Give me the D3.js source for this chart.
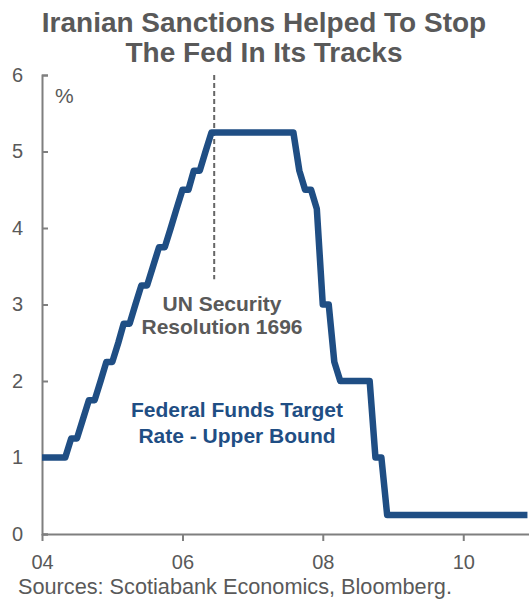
<!DOCTYPE html>
<html>
<head>
<meta charset="utf-8">
<script src="https://cdn.jsdelivr.net/npm/d3@7"></script>
<style>
  body { margin: 0; background: #fff; }
  svg { display: block; font-family: "Liberation Sans", Arial, sans-serif; }
</style>
</head>
<body>
<div id="chart"></div>
<script>
// monthly fed funds target rate (upper bound), month-end values, Jan 2004 - Dec 2010
const startMonth = "2004-01";
const rates = [
  1, 1, 1, 1, 1, 1.25, 1.25, 1.5, 1.75, 1.75, 2, 2.25,            // 2004
  2.25, 2.5, 2.75, 2.75, 3, 3.25, 3.25, 3.5, 3.75, 3.75, 4, 4.25,   // 2005
  4.5, 4.5, 4.75, 4.75, 5, 5.25, 5.25, 5.25, 5.25, 5.25, 5.25, 5.25, // 2006
  5.25, 5.25, 5.25, 5.25, 5.25, 5.25, 5.25, 5.25, 4.75, 4.5, 4.5, 4.25, // 2007
  3, 3, 2.25, 2, 2, 2, 2, 2, 2, 1, 1, 0.25,                       // 2008
  0.25, 0.25, 0.25, 0.25, 0.25, 0.25, 0.25, 0.25, 0.25, 0.25, 0.25, 0.25, // 2009
  0.25, 0.25, 0.25, 0.25, 0.25, 0.25, 0.25, 0.25, 0.25, 0.25, 0.25, 0.25  // 2010
];
const xTickYears = ["2004", "2006", "2008", "2010"];
const yTicks = [0, 1, 2, 3, 4, 5, 6];
const unDate = "2006-06-15"; // UN Security Resolution 1696 marker

const parseMonth = d3.timeParse("%Y-%m");
const parseDay = d3.timeParse("%Y-%m-%d");
const parseYear = d3.timeParse("%Y");

const data = rates.map((r, i) => ({
  date: d3.timeMonth.offset(parseMonth(startMonth), i),
  rate: r
}));

const width = 529, height = 600;
const margin = {top: 75, right: 0, bottom: 66, left: 42};

const grey = "#595959", axisGrey = "#7f7f7f", blue = "#1f4e84";

const svg = d3.select("#chart").append("svg")
  .attr("width", width)
  .attr("height", height);

const x = d3.scaleTime()
  .domain([parseYear("2004"), parseYear("2011")])
  .range([margin.left, margin.left + 7 * 70.2]);

const y = d3.scaleLinear()
  .domain([0, 6])
  .range([height - margin.bottom, margin.top]);

// title
svg.append("text")
  .attr("x", 264).attr("y", 32)
  .attr("text-anchor", "middle")
  .style("font-size", "28px").style("font-weight", "bold").style("fill", grey)
  .selectAll("tspan")
  .data(["Iranian Sanctions Helped To Stop", "The Fed In Its Tracks"])
  .join("tspan")
  .attr("x", 264)
  .attr("dy", (d, i) => i ? 30 : 0)
  .text(d => d);

// dashed marker
svg.append("line")
  .attr("x1", x(parseDay(unDate))).attr("x2", x(parseDay(unDate)))
  .attr("y1", y(6)).attr("y2", y(3.33))
  .style("stroke", "#666").style("stroke-width", 2)
  .style("stroke-dasharray", "5,3");

svg.append("text")
  .attr("text-anchor", "middle")
  .style("font-size", "21px").style("font-weight", "bold").style("fill", grey)
  .selectAll("tspan")
  .data(["UN Security", "Resolution 1696"])
  .join("tspan")
  .attr("x", 222)
  .attr("y", (d, i) => 311 + i * 23)
  .text(d => d);

// axes
const yAxis = d3.axisLeft(y)
  .tickValues(yTicks)
  .tickFormat(d3.format("d"))
  .tickSizeInner(-6)
  .tickSizeOuter(-6)
  .tickPadding(19);

const xAxis = d3.axisBottom(x)
  .tickValues(xTickYears.map(parseYear))
  .tickFormat(d3.timeFormat("%y"))
  .tickSizeInner(7)
  .tickSizeOuter(0)
  .tickPadding(14);

const gy = svg.append("g")
  .attr("transform", `translate(${margin.left},0)`)
  .call(yAxis);

const gx = svg.append("g")
  .attr("transform", `translate(0,${y(0)})`)
  .call(xAxis);

[gx, gy].forEach(g => {
  g.select(".domain").style("stroke", axisGrey).style("stroke-width", 2);
  g.selectAll(".tick line").style("stroke", axisGrey).style("stroke-width", 2);
  g.selectAll(".tick text")
    .style("font-size", "20px").style("fill", grey)
    .style("font-family", "Liberation Sans, Arial, sans-serif");
});

svg.append("text")
  .attr("x", 55).attr("y", 103)
  .style("font-size", "21px").style("fill", grey)
  .text("%");

// series
const line = d3.line()
  .x(d => x(d.date))
  .y(d => y(d.rate));

svg.append("path")
  .datum(data)
  .attr("d", line)
  .style("fill", "none")
  .style("stroke", blue)
  .style("stroke-width", 6.5)
  .style("stroke-linejoin", "round");

svg.append("text")
  .attr("text-anchor", "middle")
  .style("font-size", "21px").style("font-weight", "bold").style("fill", blue)
  .selectAll("tspan")
  .data(["Federal Funds Target", "Rate - Upper Bound"])
  .join("tspan")
  .attr("x", 237)
  .attr("y", (d, i) => 417 + i * 26)
  .text(d => d);

// source
svg.append("text")
  .attr("x", 18).attr("y", 594)
  .style("font-size", "21.7px").style("fill", grey)
  .text("Sources: Scotiabank Economics, Bloomberg.");
</script>
</body>
</html>
